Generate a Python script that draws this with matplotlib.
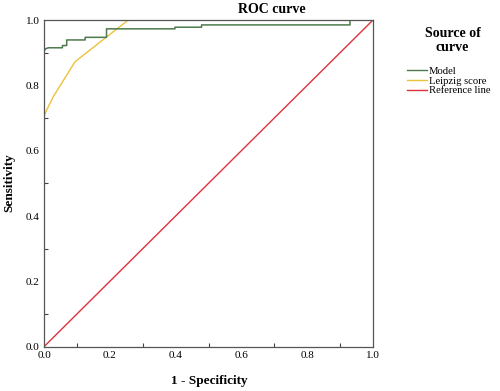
import numpy as np
import matplotlib
matplotlib.use("Agg")
import matplotlib.pyplot as plt
from matplotlib.lines import Line2D

# ROC data
model_fpr = [0.0, 0.0, 0.005, 0.013, 0.056, 0.056, 0.069, 0.069, 0.125, 0.125,
             0.19, 0.19, 0.398, 0.398, 0.479, 0.479, 0.93, 0.93, 1.0]
model_tpr = [0.903, 0.905, 0.912, 0.915, 0.915, 0.922, 0.922, 0.939, 0.939, 0.947,
             0.947, 0.973, 0.973, 0.978, 0.978, 0.985, 0.985, 1.0, 1.0]

leipzig_fpr = [0.0, 0.006, 0.028, 0.094, 0.19, 0.256, 1.0]
leipzig_tpr = [0.704, 0.72, 0.765, 0.872, 0.948, 1.0, 1.0]

ref_x = [0.0, 1.0]
ref_y = [0.0, 1.0]

series_names = ["Model", "Leipzig score", "Reference line"]
series_colors = ["#4d7a4d", "#ecc23c", "#e0303c"]

x_ticks = [0.0, 0.2, 0.4, 0.6, 0.8, 1.0]
y_ticks = [0.0, 0.2, 0.4, 0.6, 0.8, 1.0]
minor_ticks = [0.1, 0.3, 0.5, 0.7, 0.9]

plt.rcParams['font.family'] = ['Liberation Serif', 'DejaVu Serif']

fig = plt.figure(figsize=(5.0, 3.91), dpi=100)
ax = fig.add_axes([0.088, 0.1133, 0.658, 0.8355])

ax.plot(ref_x, ref_y, color=series_colors[2], lw=1.0)
ax.plot(leipzig_fpr, leipzig_tpr, color=series_colors[1], lw=1.0)
ax.plot(model_fpr, model_tpr, color=series_colors[0], lw=1.1)

ax.set_xlim(0, 1)
ax.set_ylim(0, 1)
ax.set_xticks(x_ticks)
ax.set_yticks(y_ticks)
ax.set_xticklabels([f"{v:.1f}" for v in x_ticks])
ax.set_yticklabels([f"{v:.1f}" for v in y_ticks])
ax.set_xticks(minor_ticks, minor=True)
ax.set_yticks(minor_ticks, minor=True)
ax.tick_params(which="major", length=0, labelsize=8, pad=3)
ax.tick_params(which="minor", direction="in", length=3, width=0.8, color="#444444")
for s in ax.spines.values():
    s.set_color("#555555")
    s.set_linewidth(0.9)

# axis titles placed where the reference has them
fig.text(0.418, 0.026, "1 - Specificity", fontsize=9.5, fontweight="bold",
         ha="center", va="center")
fig.text(0.019, 0.532, "Sensitivity", fontsize=9.5, fontweight="bold",
         ha="center", va="center", rotation=90)

fig.text(0.544, 0.975, "ROC curve", fontsize=10, fontweight="bold",
         ha="center", va="center")

# legend
fig.text(0.905, 0.896, "Source of\ncurve", fontsize=10, fontweight="bold",
         ha="center", va="center", linespacing=1.15)
handles = [Line2D([0], [0], color=c, lw=1.0) for c in series_colors]
leg = fig.legend(handles, series_names, loc="upper left",
                 bbox_to_anchor=(0.813, 0.83), frameon=False, fontsize=7.7,
                 handlelength=1.9, handletextpad=0.2, labelspacing=0.02,
                 borderaxespad=0, borderpad=0)

fig.savefig("out.png", dpi=100)
